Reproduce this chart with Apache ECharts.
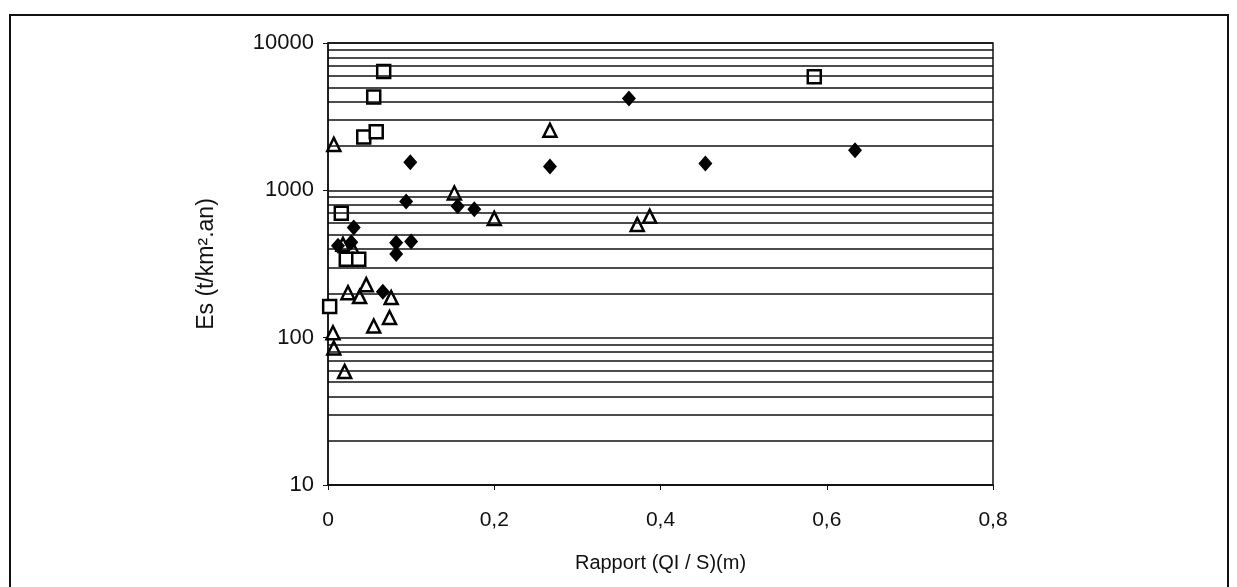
<!DOCTYPE html>
<html>
<head>
<meta charset="utf-8">
<script src="https://cdn.jsdelivr.net/npm/echarts@6/dist/echarts.min.js"></script>
<style>
html,body{margin:0;padding:0;background:#fff;}
#c{width:1237px;height:587px;}
</style>
</head>
<body>
<div id="c"></div>
<script>
// Filled diamonds
var diamonds = [[0.099,1550],[0.094,840],[0.031,560],[0.012,420],[0.028,445],[0.082,440],[0.100,450],[0.082,370],[0.066,205],[0.156,780],[0.176,745],[0.267,1450],[0.362,4200],[0.454,1520],[0.634,1870]];
// Open squares
var squares = [[0.067,6400],[0.055,4300],[0.043,2300],[0.058,2500],[0.016,700],[0.022,340],[0.037,340],[0.002,163],[0.585,5900]];
// Open triangles
var triangles = [[0.007,2050],[0.267,2560],[0.200,645],[0.372,587],[0.387,666],[0.152,960],[0.024,202],[0.038,190],[0.046,229],[0.076,187],[0.055,120],[0.074,137],[0.006,108],[0.007,85],[0.020,59],[0.018,430],[0.030,400]];
// Horizontal grid lines (minor values of the log scale)
var gridValues = [20,30,40,50,60,70,80,90,200,300,400,500,600,700,800,900,2000,3000,4000,5000,6000,7000,8000,9000];
var xTicks = ['0','0,2','0,4','0,6','0,8'];
var yTicks = ['10','100','1000','10000'];

var chart = echarts.init(document.getElementById('c'));
var FONT = 'Liberation Sans';
chart.setOption({
  backgroundColor: '#fff',
  animation: false,
  graphic: [{
    type: 'polyline',
    shape: {points: [[10, 587], [10, 15], [1228, 15], [1228, 587]]},
    style: {fill: 'none', stroke: '#111', lineWidth: 2}
  }],
  grid: {left: 328, right: 244, top: 43, bottom: 102, show: true, borderColor: '#111', borderWidth: 1.5, backgroundColor: 'transparent'},
  xAxis: {
    type: 'value', min: 0, max: 0.8, interval: 0.2,
    name: 'Rapport (QI / S)(m)', nameLocation: 'middle', nameGap: 68,
    nameTextStyle: {fontFamily: FONT, fontSize: 20, color: '#111'},
    axisLine: {show: true, onZero: false, lineStyle: {color: '#111', width: 1.5}},
    axisTick: {show: true, length: 5, lineStyle: {color: '#111'}},
    axisLabel: {margin: 25, fontFamily: FONT, fontSize: 21, color: '#111',
      formatter: function (v) { return xTicks[Math.round(v / 0.2)]; }},
    splitLine: {show: false}
  },
  yAxis: {
    type: 'log', logBase: 10, min: 10, max: 10000,
    name: 'Es (t/km².an)', nameLocation: 'middle', nameGap: 110, nameRotate: 90,
    nameTextStyle: {fontFamily: FONT, fontSize: 23, color: '#111'},
    axisLine: {show: true, lineStyle: {color: '#111', width: 1.5}},
    axisTick: {show: true, length: 5, lineStyle: {color: '#111'}},
    axisLabel: {margin: 14, fontFamily: FONT, fontSize: 22, color: '#111',
      formatter: function (v) { return yTicks[Math.round(Math.log(v) / Math.LN10) - 1]; }},
    splitLine: {show: true, lineStyle: {color: '#111', width: 1.5}}
  },
  series: [
    {
      type: 'scatter', data: triangles, symbol: 'triangle', symbolSize: 13,
      itemStyle: {color: '#fff', borderColor: '#000', borderWidth: 2.5, opacity: 1},
      markLine: {
        silent: true, symbol: ['none', 'none'], animation: false,
        label: {show: false},
        lineStyle: {color: '#111', width: 1.5, type: 'solid'},
        emphasis: {disabled: true},
        data: gridValues.map(function (v) { return {yAxis: v}; })
      },
      z: 3
    },
    {
      type: 'scatter', data: squares, symbol: 'rect', symbolSize: 13,
      itemStyle: {color: '#fff', borderColor: '#000', borderWidth: 2.5, opacity: 1},
      z: 4
    },
    {
      type: 'scatter', data: diamonds, symbol: 'diamond', symbolSize: [14, 16],
      itemStyle: {color: '#000', opacity: 1},
      z: 5
    }
  ]
});
</script>
</body>
</html>
